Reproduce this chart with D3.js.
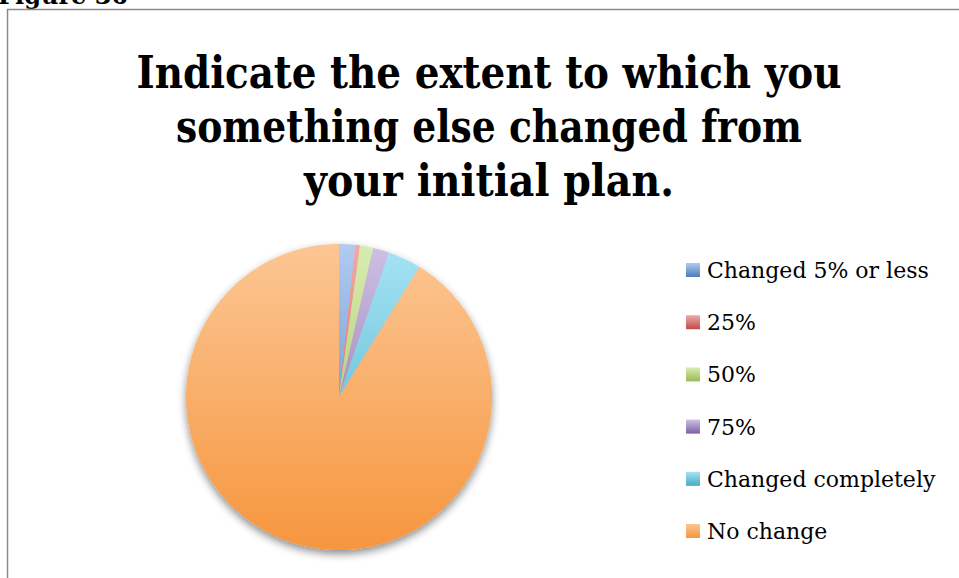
<!DOCTYPE html>
<html>
<head>
<meta charset="utf-8">
<script src="https://cdn.jsdelivr.net/npm/d3@7"></script>
<style>
  html, body { margin: 0; padding: 0; background: #fff; }
  svg { display: block; }
</style>
</head>
<body>
<div id="chart"></div>
<script>
  // Pie slices, clockwise from 12 o'clock (percent of responses)
  const categories = ['Changed 5% or less', '25%', '50%', '75%', 'Changed completely', 'No change'];
  const values = [1.7, 0.5, 1.4, 1.7, 3.5, 91.2];
  // light / dark stop per slice, Office 2007 style gradient
  const lightColors = ['#b1cbf2', '#f2aaa8', '#d9ecb0', '#cfc0e4', '#a6e4f5', '#fcc694'];
  const darkColors = ['#4a7ebb', '#be4b48', '#98b954', '#7d60a0', '#46aac5', '#f6963e'];
  const titleLines = ['Indicate the extent to which you', 'something else changed from', 'your initial plan.'];

  const W = 959, H = 578;
  const svg = d3.select('#chart').append('svg').attr('width', W).attr('height', H);
  const defs = svg.append('defs');

  // caption cut off at the top of the crop
  svg.append('text').attr('x', -2).attr('y', 4)
    .style('font-family', "'DejaVu Serif', serif").style('font-weight', 'bold')
    .style('font-size', '24px').text('Figure 36');

  // chart frame
  svg.append('rect').attr('x', 7.5).attr('y', 9.5).attr('width', 960).attr('height', 600)
    .attr('fill', '#fff').attr('stroke', '#8c8c8c').attr('stroke-width', 1.5);

  // title
  const title = svg.append('g').style('font-family', "'DejaVu Serif', serif")
    .style('font-weight', 'bold').style('fill', '#000');
  const titleY = [88, 142, 196];
  const titleW = [705, 626, 370];
  titleLines.forEach((t, i) => {
    title.append('text').attr('x', 489).attr('y', titleY[i]).attr('text-anchor', 'middle')
      .style('font-size', '44px')
      .attr('textLength', titleW[i]).attr('lengthAdjust', 'spacingAndGlyphs')
      .text(t);
  });

  // gradients
  categories.forEach((c, i) => {
    const g = defs.append('linearGradient').attr('id', 'grad' + i)
      .attr('x1', 0).attr('y1', 0).attr('x2', 0).attr('y2', 1);
    g.append('stop').attr('offset', '0%').attr('stop-color', lightColors[i]);
    g.append('stop').attr('offset', '100%').attr('stop-color', darkColors[i]);
    const p = defs.append('linearGradient').attr('id', 'pgrad' + i)
      .attr('gradientUnits', 'userSpaceOnUse')
      .attr('x1', 0).attr('y1', -153).attr('x2', 0).attr('y2', 153);
    p.append('stop').attr('offset', '0%').attr('stop-color', lightColors[i]);
    p.append('stop').attr('offset', '100%').attr('stop-color', darkColors[i]);
  });
  const shadow = defs.append('filter').attr('id', 'shadow')
    .attr('x', '-20%').attr('y', '-20%').attr('width', '140%').attr('height', '140%');
  shadow.append('feGaussianBlur').attr('in', 'SourceAlpha').attr('stdDeviation', 4);
  shadow.append('feOffset').attr('dx', 0).attr('dy', 4).attr('result', 'b');
  shadow.append('feComponentTransfer').append('feFuncA').attr('type', 'linear').attr('slope', 0.45);
  const merge = shadow.append('feMerge');
  merge.append('feMergeNode');
  merge.append('feMergeNode').attr('in', 'SourceGraphic');

  // pie
  const cx = 339, cy = 397, R = 153;
  const pie = d3.pie().sort(null).value(d => d)(values);
  const arc = d3.arc().innerRadius(0).outerRadius(R);
  const pg = svg.append('g').attr('transform', `translate(${cx},${cy})`).attr('filter', 'url(#shadow)');
  pg.selectAll('path').data(pie).enter().append('path')
    .attr('d', arc)
    .attr('fill', (d, i) => `url(#pgrad${i})`)
    .attr('stroke', 'none');

  // legend
  const legY = d3.scalePoint().domain(d3.range(categories.length)).range([270, 531]);
  const leg = svg.append('g');
  categories.forEach((c, i) => {
    const y = legY(i);
    leg.append('rect').attr('x', 686).attr('y', y - 7).attr('width', 14).attr('height', 14)
      .attr('fill', `url(#grad${i})`);
    leg.append('text').attr('x', 707).attr('y', y + 8)
      .style('font-family', "'DejaVu Serif', serif").style('font-size', '22px')
      .style('fill', '#000').text(c);
  });
</script>
</body>
</html>
